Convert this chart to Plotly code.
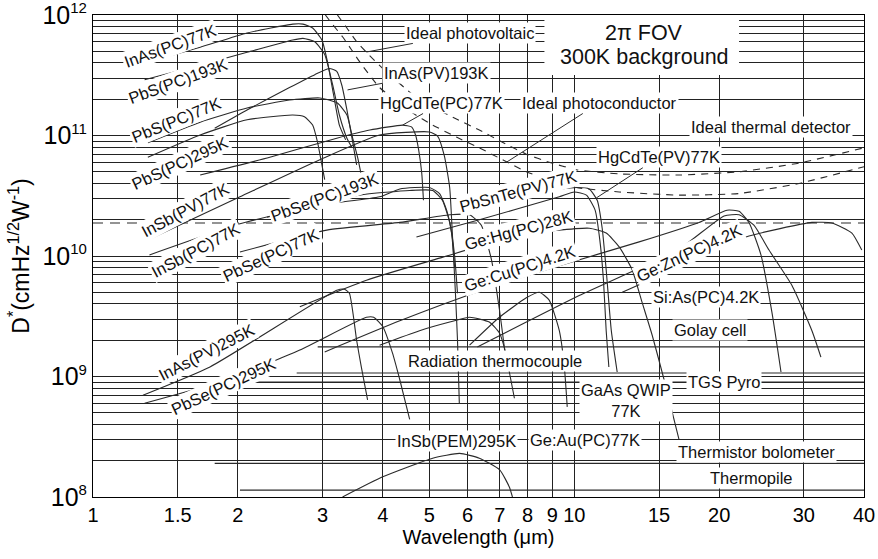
import numpy as np
import plotly.graph_objects as go

FONT = "Arial, Liberation Sans, sans-serif"

# ---------------- data: wavelength (um) and D* (cm Hz^1/2 W^-1) ----------------
inas_pc77_wl = [1.31, 1.67, 2.09, 2.60, 2.73, 2.86, 2.99, 3.07, 3.16, 3.25, 3.35]
inas_pc77_d = [4.1e11, 5.4e11, 7.1e11, 8.4e11, 8.4e11, 7.8e11, 6.2e11, 4.1e11, 2.2e11, 1.22e11, 9.2e10]

pbs_pc193_wl = [1.28, 1.67, 2.09, 2.60, 2.73, 2.89, 3.03, 3.15, 3.25, 3.37, 3.45]
pbs_pc193_d = [2.9e11, 3.85e11, 4.9e11, 6.2e11, 6.4e11, 6.0e11, 4.7e11, 2.6e11, 1.48e11, 9.5e10, 8.0e10]

pbs_pc77_wl = [1.30, 1.67, 2.09, 2.56, 2.96, 3.22, 3.37, 3.46, 3.55, 3.61]
pbs_pc77_d = [8.7e10, 1.29e11, 1.69e11, 1.97e11, 2.05e11, 1.86e11, 1.48e11, 9.7e10, 6.5e10, 4.7e10]

pbs_pc295_wl = [1.30, 1.67, 2.09, 2.60, 2.75, 2.86, 2.93, 2.99, 3.03]
pbs_pc295_d = [6.6e10, 1.01e11, 1.35e11, 1.48e11, 1.43e11, 1.22e11, 8.7e10, 5.7e10, 4.3e10]

inas_pv193_wl = [1.79, 2.09, 2.56, 2.89, 3.10, 3.21, 3.29, 3.37, 3.45, 3.53]
inas_pv193_d = [1.15e11, 1.63e11, 2.5e11, 3.2e11, 3.6e11, 3.4e11, 2.6e11, 1.63e11, 9.7e10, 5.7e10]

hgcdte_pc77_wl = [1.67, 2.33, 3.21, 3.76, 4.40, 4.59, 4.68, 4.75, 4.82, 4.86]
hgcdte_pc77_d = [4.7e10, 6.6e10, 9.5e10, 1.11e11, 1.22e11, 1.18e11, 1.01e11, 7.6e10, 4.9e10, 2.9e10]

insb_pv77_wl = [1.30, 2.02, 2.96, 3.94, 5.00, 5.20, 5.37, 5.51, 5.58, 5.66, 5.72, 5.77]
insb_pv77_d = [1.36e10, 3.1e10, 6.3e10, 1.01e11, 1.07e11, 9.9e10, 6.8e10, 3.7e10, 1.55e10, 5.2e9, 2.0e9, 6.0e8]

insb_pc77_wl = [1.31, 2.02, 2.96, 3.94, 4.34, 5.00, 5.25, 5.43, 5.56, 5.64]
insb_pc77_d = [1.02e10, 1.85e10, 2.65e10, 3.1e10, 3.6e10, 3.7e10, 3.3e10, 2.4e10, 1.55e10, 8.1e9]

pbse_pc193_wl = [2.30, 3.58, 4.55, 5.08, 5.32, 5.51, 5.64, 5.72]
pbse_pc193_d = [2.1e10, 3.2e10, 3.5e10, 3.5e10, 2.9e10, 1.9e10, 1.02e10, 4.9e9]

pbse_pc77_wl = [2.02, 3.06, 4.34, 5.51, 6.06, 6.41, 6.73, 6.99, 7.19]
pbse_pc77_d = [1.08e10, 1.64e10, 1.9e10, 2.2e10, 2.2e10, 1.8e10, 9.3e9, 3.6e9, 1.51e9]

pbsnte_pv77_wl = [4.70, 6.35, 9.31, 10.0, 10.6, 11.05, 11.3, 11.5, 11.65, 11.8]
pbsnte_pv77_d = [1.44e10, 2.0e10, 3.1e10, 3.4e10, 3.2e10, 2.4e10, 1.36e10, 6.3e9, 2.4e9, 1.2e9]

hgcdte_pv77_wl = [5.77, 7.69, 10.1, 10.74, 11.16, 11.43, 11.65, 11.94, 12.28]
hgcdte_pv77_d = [2.65e10, 3.2e10, 3.7e10, 3.6e10, 2.9e10, 1.7e10, 7.7e9, 2.4e9, 1.09e9]

gehg_pc28_wl = [2.69, 3.70, 5.25, 7.69, 10.74, 11.65, 12.40, 13.19, 13.84, 14.52, 15.37, 16.51]
gehg_pc28_d = [3.8e9, 6.3e9, 9.6e9, 1.49e10, 1.7e10, 1.55e10, 1.19e10, 7.7e9, 4.1e9, 2.2e9, 9.4e8, 3.0e8]

gecu_pc4_wl = [3.03, 4.34, 6.44, 9.31, 13.64, 18.17, 20.77, 22.0, 23.07, 24.43, 25.75, 26.89]
gecu_pc4_d = [1.6e9, 2.9e9, 5.2e9, 8.3e9, 1.31e10, 1.9e10, 2.4e10, 2.35e10, 1.9e10, 1.02e10, 3.4e9, 1.09e9]

gezn_pc4_wl = [6.29, 10.24, 16.51, 20.48, 22.0, 23.62, 25.39, 28.34, 31.18, 32.55]
gezn_pc4_d = [1.76e9, 4.7e9, 1.14e10, 2.15e10, 2.2e10, 1.8e10, 1.12e10, 5.7e9, 2.4e9, 1.45e9]

sias_pc4_wl = [12.58, 16.51, 22.74, 31.18, 34.30, 37.75, 39.58]
sias_pc4_d = [5.0e9, 8.1e9, 1.44e10, 1.9e10, 1.88e10, 1.55e10, 1.12e10]

inas_pv295_wl = [1.27, 1.75, 3.21, 3.33, 3.41, 3.53, 3.61, 3.72]
inas_pv295_d = [7.0e8, 1.2e9, 5.2e9, 5.3e9, 4.9e9, 2.0e9, 1.2e9, 6.4e8]

pbse_pc295_wl = [1.28, 1.90, 2.69, 3.70, 3.83, 4.00, 4.19, 4.34, 4.55]
pbse_pc295_d = [6.0e8, 9.4e8, 1.66e9, 3.1e9, 3.1e9, 2.6e9, 1.57e9, 9.4e8, 4.4e8]

insb_pem295_wl = [3.30, 4.00, 5.08, 5.78, 6.35, 7.00, 7.33, 7.44]
insb_pem295_d = [1.0e8, 1.47e8, 2.1e8, 2.3e8, 2.1e8, 1.68e8, 1.21e8, 1.0e8]

geau_pc77_wl = [3.94, 4.77, 5.51, 6.06, 6.66, 6.99, 7.16, 7.33, 7.51]
geau_pc77_d = [1.82e9, 2.4e9, 2.83e9, 3.1e9, 2.83e9, 2.3e9, 1.73e9, 1.09e9, 6.6e8]

gaas_qwip_wl = [6.06, 6.99, 7.95, 8.46, 8.87, 9.31, 9.53, 9.67]
gaas_qwip_d = [1.82e9, 3.1e9, 4.5e9, 5.0e9, 4.3e9, 2.4e9, 1.24e9, 5.6e8]

golay_wl = [2.93, 40.0]
golay_d = [1.76e9, 1.76e9]
thermocouple_wl = [2.65, 40.0]
thermocouple_d = [1.07e9, 1.07e9]
tgs_wl = [2.0, 40.0]
tgs_d = [9.0e8, 9.0e8]
thermistor_wl = [1.79, 40.0]
thermistor_d = [1.9e8, 1.9e8]
thermopile_wl = [2.02, 40.0]
thermopile_d = [1.14e8, 1.14e8]

ideal_pc_wl = [3.04, 3.15, 3.30, 3.45, 3.58, 3.94, 4.61, 5.08, 5.69, 6.35, 7.09, 7.95, 8.87, 10.1, 12.4, 16.5, 22.0, 29.3, 40.0]
ideal_pc_d = [1.0e12, 8.3e11, 6.6e11, 5.1e11, 4.1e11, 2.5e11, 1.54e11, 1.22e11, 9.7e10, 7.9e10, 6.3e10, 5.0e10,
              4.3e10, 3.7e10, 3.4e10, 3.2e10, 3.3e10, 4.0e10, 5.5e10]
ideal_pv_wl = [3.22, 3.37, 3.53, 3.70, 4.03, 4.61, 5.08, 5.69, 6.35, 7.09, 7.95, 8.87, 10.1, 12.4, 16.5, 22.0, 29.3, 40.0]
ideal_pv_d = [1.0e12, 7.8e11, 6.0e11, 4.9e11, 3.5e11, 2.2e11, 1.73e11, 1.37e11, 1.11e11, 8.8e10, 7.0e10, 6.0e10,
              5.2e10, 4.8e10, 4.7e10, 5.0e10, 5.9e10, 7.9e10]
ideal_thermal_wl = [1.0, 40.0]
ideal_thermal_d = [1.88e10, 1.88e10]

# tick labels
x_tickvals = [1, 1.5, 2, 3, 4, 5, 6, 7, 8, 9, 10, 15, 20, 30, 40]
x_ticktext = ["1", "1.5", "2", "3", "4", "5", "6", "7", "8", "9", "10", "15", "20", "30", "40"]
y_decades = [8, 9, 10, 11, 12]

# labels (text, wavelength, D*, angle)
label_text = ["InAs(PC)77K", "PbS(PC)193K", "PbS(PC)77K", "PbS(PC)295K", "InSb(PV)77K", "InSb(PC)77K",
              "PbSe(PC)193K", "PbSe(PC)77K", "InAs(PV)295K", "PbSe(PC)295K", "PbSnTe(PV)77K",
              "Ge:Hg(PC)28K", "Ge:Cu(PC)4.2K", "Ge:Zn(PC)4.2K", "Si:As(PC)4.2K", "Golay cell",
              "Radiation thermocouple", "TGS Pyro", "GaAs QWIP<br>77K", "InSb(PEM)295K", "Ge:Au(PC)77K",
              "Thermistor bolometer", "Thermopile", "Ideal thermal detector"]
label_wl = [1.445, 1.50, 1.487, 1.515, 1.552, 1.636, 3.03, 2.34, 1.724, 1.87, 7.65,
            7.67, 7.73, 17.3, 18.8, 19.15, 6.86, 20.5, 12.8, 5.69, 10.54, 23.9, 23.3, 25.6]
label_d = [5.53e11, 2.83e11, 1.35e11, 5.9e10, 2.41e10, 1.12e10, 3.09e10, 1.02e10, 1.6e9, 8.3e8, 3.46e10,
           1.64e10, 7.9e9, 1.06e10, 4.57e9, 2.43e9, 1.35e9, 9.0e8, 6.3e8, 2.92e8, 2.97e8, 2.36e8, 1.44e8, 1.18e11]
label_angle = [-20, -20, -22, -25, -28, -28, -20, -25, -27, -25, -15,
               -15, -18, -25, 0, 0, 0, 0, 0, 0, 0, 0, 0, 0]

# labels with leader lines (text, text position, tip position)
leader_text = ["InAs(PV)193K", "Ideal photovoltaic", "HgCdTe(PC)77K", "Ideal photoconductor", "HgCdTe(PV)77K"]
leader_wl = [5.17, 6.06, 5.30, 11.27, 15.0]
leader_d = [3.3e11, 7.1e11, 1.86e11, 1.86e11, 6.6e10]
leader_tip_wl = [3.38, 3.70, 4.40, 7.23, 11.11]
leader_tip_d = [2.39e11, 4.93e11, 1.22e11, 6.0e10, 3.03e10]

# condition box (top right)
cond_lines = ["2\u03c0 FOV", "300K background"]
cond_wl = 13.97
cond_d = [7.1e11, 4.48e11]
cond_box_wl = [8.67, 22.0]
cond_box_d = [3.18e11, 1.0e12]

series = [
    (inas_pc77_wl, inas_pc77_d, "solid"), (pbs_pc193_wl, pbs_pc193_d, "solid"),
    (pbs_pc77_wl, pbs_pc77_d, "solid"), (pbs_pc295_wl, pbs_pc295_d, "solid"),
    (inas_pv193_wl, inas_pv193_d, "solid"), (hgcdte_pc77_wl, hgcdte_pc77_d, "solid"),
    (insb_pv77_wl, insb_pv77_d, "solid"), (insb_pc77_wl, insb_pc77_d, "solid"),
    (pbse_pc193_wl, pbse_pc193_d, "solid"), (pbse_pc77_wl, pbse_pc77_d, "solid"),
    (pbsnte_pv77_wl, pbsnte_pv77_d, "solid"), (hgcdte_pv77_wl, hgcdte_pv77_d, "solid"),
    (gehg_pc28_wl, gehg_pc28_d, "solid"), (gecu_pc4_wl, gecu_pc4_d, "solid"),
    (gezn_pc4_wl, gezn_pc4_d, "solid"), (sias_pc4_wl, sias_pc4_d, "solid"),
    (inas_pv295_wl, inas_pv295_d, "solid"), (pbse_pc295_wl, pbse_pc295_d, "solid"),
    (insb_pem295_wl, insb_pem295_d, "solid"), (geau_pc77_wl, geau_pc77_d, "solid"),
    (gaas_qwip_wl, gaas_qwip_d, "solid"),
    (golay_wl, golay_d, "solid"), (thermocouple_wl, thermocouple_d, "solid"),
    (tgs_wl, tgs_d, "solid"), (thermistor_wl, thermistor_d, "solid"),
    (thermopile_wl, thermopile_d, "solid"),
    (ideal_pc_wl, ideal_pc_d, "7px,6px"), (ideal_pv_wl, ideal_pv_d, "7px,6px"),
    (ideal_thermal_wl, ideal_thermal_d, "10px,7px"),
]

fig = go.Figure()
for wl, d, dash in series:
    fig.add_trace(go.Scatter(
        x=wl, y=d, mode="lines", showlegend=False, hoverinfo="skip",
        line=dict(color="#2a2a2a", width=1.1, dash=dash, shape="spline", smoothing=0.5),
    ))

# y ticks: labels at decades, minor gridlines at 2..9 x decade
y_tickvals = [10.0 ** e for e in y_decades]
y_ticktext = [f"10<sup><span style='font-size:15px'>{e}</span></sup>" for e in y_decades]
y_minor = [m * 10.0 ** e for e in y_decades[:-1] for m in range(2, 10)]

for txt, wl, d, ang in zip(label_text, label_wl, label_d, label_angle):
    fig.add_annotation(x=np.log10(wl), y=np.log10(d), text=txt, textangle=ang, showarrow=False,
                       bgcolor="white", borderpad=1, font=dict(size=16.5, family=FONT, color="#111"))

for txt, wl, d, twl, td in zip(leader_text, leader_wl, leader_d, leader_tip_wl, leader_tip_d):
    fig.add_annotation(x=np.log10(twl), y=np.log10(td), ax=np.log10(wl), ay=np.log10(d),
                       axref="x", ayref="y", text=txt, showarrow=True, arrowhead=0, arrowwidth=1,
                       arrowcolor="#2a2a2a", standoff=0, bgcolor="white", borderpad=1,
                       font=dict(size=16.5, family=FONT, color="#111"))

# white box behind the condition text
fig.add_shape(type="rect", xref="x", yref="y", x0=cond_box_wl[0], x1=cond_box_wl[1],
              y0=cond_box_d[0], y1=cond_box_d[1], fillcolor="white", line=dict(width=0), layer="above")
for txt, d in zip(cond_lines, cond_d):
    fig.add_annotation(x=np.log10(cond_wl), y=np.log10(d), text=txt, showarrow=False,
                       font=dict(size=21.5, family=FONT, color="#111"))

fig.update_layout(
    width=878, height=559, margin=dict(l=93, r=14, t=15, b=62, autoexpand=False),
    paper_bgcolor="white", plot_bgcolor="white", showlegend=False,
    font=dict(family=FONT, color="black"),
)
fig.update_xaxes(
    type="log", range=[0, np.log10(40)], tickvals=x_tickvals, ticktext=x_ticktext,
    showgrid=True, gridcolor="#222", gridwidth=1, zeroline=False, ticks="", ticklen=0,
    showline=True, linecolor="black", linewidth=1.2, mirror=True, automargin=False,
    ticklabeloverflow="allow",
    tickfont=dict(size=20, family=FONT),
    title=dict(text="Wavelength (\u03bcm)", font=dict(size=20, family=FONT), standoff=2),
)
fig.update_yaxes(
    type="log", range=[8, 12], tickvals=y_tickvals, ticktext=y_ticktext,
    showgrid=True, gridcolor="#222", gridwidth=1, zeroline=False, ticks="", ticklen=0,
    minor=dict(tickvals=y_minor, showgrid=True, gridcolor="#222", gridwidth=1, ticks=""),
    showline=True, linecolor="black", linewidth=1.2, mirror=True, automargin=False,
    ticklabeloverflow="allow",
    tickfont=dict(size=25, family=FONT),
    title=dict(text="D<sup>*</sup>(cmHz<sup>1/2</sup>W<sup>-1</sup>)", font=dict(size=23, family=FONT), standoff=6),
)

fig.write_html("out.html", config={"displayModeBar": False},
               post_script="document.body.style.margin='0px';document.body.style.padding='0px';")
